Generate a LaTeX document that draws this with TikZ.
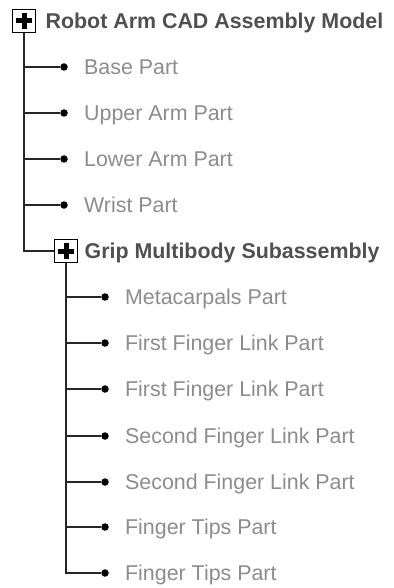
\documentclass[tikz,border=0pt]{standalone}
\usepackage{fontspec}
\setmainfont{Liberation Sans}
\usetikzlibrary{positioning}
\definecolor{headcolor}{HTML}{505050}
\definecolor{partcolor}{HTML}{8C8C8C}
\tikzset{
  expander/.style={draw,line width=1.8pt,minimum size=23pt,inner sep=0pt},
  leaf/.style={circle,fill=black,inner sep=0pt,minimum size=7.5pt},
  branch/.style={line width=1.8pt,black!85},
  plus/.style={line width=5pt},
  heading/.style={anchor=west,inner sep=0pt,text height=15.3pt,text depth=0pt,
    text=headcolor,font=\fontsize{21.4}{24}\selectfont\bfseries},
  partname/.style={anchor=west,inner sep=0pt,text height=15.3pt,text depth=0pt,
    text=partcolor,font=\fontsize{21.4}{24}\selectfont}
}
\begin{document}
\begin{tikzpicture}[x=1pt,y=-1pt]
   \useasboundingbox (0,0) rectangle (393,588);
   % top level
   \node [expander] (model) at (24,21) {};
   \draw [plus] ([xshift=-8pt]model.center) -- ([xshift=8pt]model.center);
   \draw [plus] ([yshift=-8pt]model.center) -- ([yshift=8pt]model.center);
   \node [heading,right=9pt of model] (modeltext) {Robot Arm CAD Assembly Model};
   \node [leaf] (base) at (64,67) {};
   \node [leaf] (upper) at (64,113) {};
   \node [leaf] (lower) at (64,159) {};
   \node [leaf] (wrist) at (64,205) {};
   \node [expander] (grip) at (66,251) {};
   \draw [plus] ([xshift=-8pt]grip.center) -- ([xshift=8pt]grip.center);
   \draw [plus] ([yshift=-8pt]grip.center) -- ([yshift=8pt]grip.center);
   \node [partname,right=16pt of base] (basetext) {Base Part};
   \node [partname,right=16pt of upper] (uppertext) {Upper Arm Part};
   \node [partname,right=16pt of lower] (lowertext) {Lower Arm Part};
   \node [partname,right=16pt of wrist] (wristtext) {Wrist Part};
   \node [heading,right=6pt of grip] (griptext) {Grip Multibody Subassembly};
   \draw [branch] (model.south) |- (grip.west);
   \draw [branch] (model.south |- base) -- (base);
   \draw [branch] (model.south |- upper) -- (upper);
   \draw [branch] (model.south |- lower) -- (lower);
   \draw [branch] (model.south |- wrist) -- (wrist);
   % grip subassembly
   \node [leaf] (meta) at (105,297) {};
   \node [leaf] (firsta) at (105,343) {};
   \node [leaf] (firstb) at (105,389) {};
   \node [leaf] (seconda) at (105,436) {};
   \node [leaf] (secondb) at (105,482) {};
   \node [leaf] (tipsa) at (105,527) {};
   \node [leaf] (tipsb) at (105,573) {};
   \node [partname,right=16pt of meta] (metatext) {Metacarpals Part};
   \node [partname,right=16pt of firsta] (firstatext) {First Finger Link Part};
   \node [partname,right=16pt of firstb] (firstbtext) {First Finger Link Part};
   \node [partname,right=16pt of seconda] (secondatext) {Second Finger Link Part};
   \node [partname,right=16pt of secondb] (secondbtext) {Second Finger Link Part};
   \node [partname,right=16pt of tipsa] (tipsatext) {Finger Tips Part};
   \node [partname,right=16pt of tipsb] (tipsbtext) {Finger Tips Part};
   \draw [branch] (grip.south) |- (tipsb);
   \draw [branch] (grip.south |- meta) -- (meta);
   \draw [branch] (grip.south |- firsta) -- (firsta);
   \draw [branch] (grip.south |- firstb) -- (firstb);
   \draw [branch] (grip.south |- seconda) -- (seconda);
   \draw [branch] (grip.south |- secondb) -- (secondb);
   \draw [branch] (grip.south |- tipsa) -- (tipsa);
\end{tikzpicture}
\end{document}
